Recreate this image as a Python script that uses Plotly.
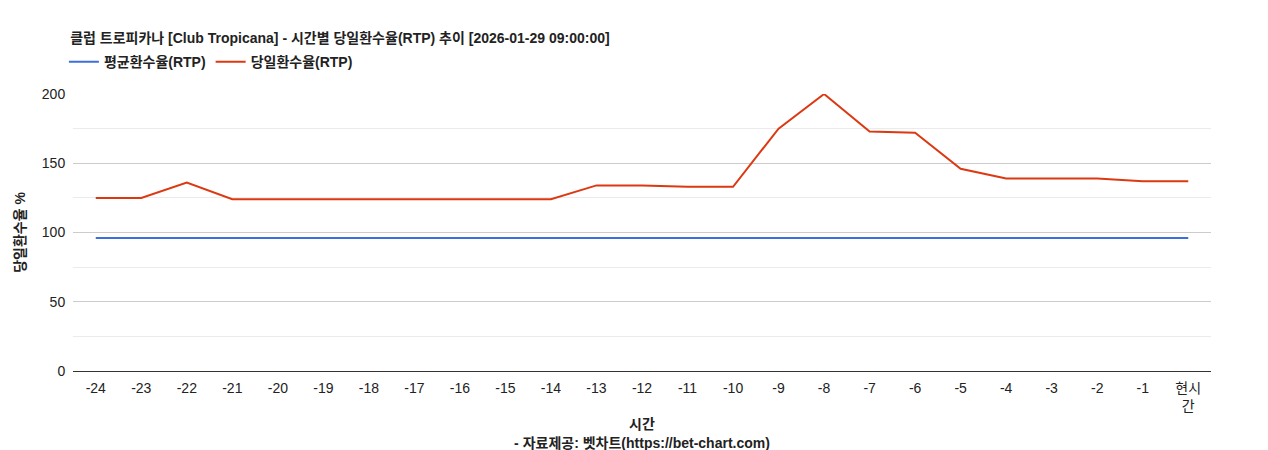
import plotly.graph_objects as go

categories = ["-24","-23","-22","-21","-20","-19","-18","-17","-16","-15","-14","-13","-12","-11","-10","-9","-8","-7","-6","-5","-4","-3","-2","-1","현시<br>간"]
avg_rtp = [96]*25
day_rtp = [125,125,136,124,124,124,124,124,124,124,124,134,134,133,133,175,200,173,172,146,139,139,139,137,137]

font = "Liberation Sans, Noto Sans CJK KR"
fig = go.Figure()
fig.add_trace(go.Scatter(x=categories, y=avg_rtp, mode="lines", name="<b>평균환수율(RTP)</b>", line=dict(color="#3c6fdc", width=2)))
fig.add_trace(go.Scatter(x=categories, y=day_rtp, mode="lines", name="<b>당일환수율(RTP)</b>", line=dict(color="#dc3912", width=2)))
fig.update_layout(
    width=1268, height=450, paper_bgcolor="white", plot_bgcolor="white",
    margin=dict(l=65, r=65, t=86, b=87, autoexpand=False),
    font=dict(family=font, size=14, color="#222"),
    title=dict(text="<b>클럽 트로피카나 [Club Tropicana] - 시간별 당일환수율(RTP) 추이 [2026-01-29 09:00:00]</b>", x=0.049, xanchor="left", y=0.933, yanchor="middle", font=dict(size=14)),
    legend=dict(orientation="h", x=-0.008, y=1.115, xanchor="left", yanchor="middle", font=dict(size=14, family=font)),
    showlegend=True,
)
fig.update_xaxes(title=dict(text="<b>시간</b><br><b>- 자료제공: 벳차트(https://bet-chart.com)</b>", font=dict(size=14), standoff=6),
                 range=[-0.5, 24.5], showline=True, linecolor="#333", showgrid=False, ticks="outside", ticklen=4, tickcolor="white", tickfont=dict(size=14))
fig.update_yaxes(title=dict(text="<b>당일환수율 %</b>", font=dict(size=14), standoff=12), range=[0, 200], dtick=50,
                 gridcolor="#cccccc", zeroline=False, tickfont=dict(size=14), ticks="outside", ticklen=4, tickcolor="white",
                 minor=dict(dtick=25, showgrid=True, gridcolor="#ebebeb"))
fig.write_html("out.html")
